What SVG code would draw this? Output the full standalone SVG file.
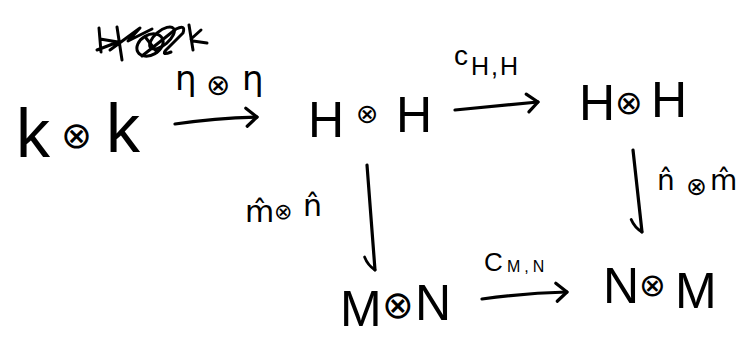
<svg xmlns="http://www.w3.org/2000/svg" width="752" height="339" viewBox="0 0 752 339">
  <style>
    .obj { font-family: "Liberation Sans", "DejaVu Sans", sans-serif; font-size: 50px; fill: #000; }
    .big { font-size: 68px; }
    .ot { font-family: "DejaVu Sans", sans-serif; fill: #000; }
    .lbl { font-family: "DejaVu Sans", sans-serif; font-size: 30px; fill: #000; }
    .sub { font-family: "Liberation Sans", sans-serif; fill: #000; }
    .edge { fill: none; stroke: #000; stroke-width: 3.2; stroke-linecap: round; stroke-linejoin: round; }
    .scrib { fill: none; stroke: #000; stroke-width: 3; stroke-linecap: round; stroke-linejoin: round; }
  </style>
  <defs>
    <marker id="head" markerUnits="userSpaceOnUse" markerWidth="30" markerHeight="30" viewBox="-15 -15 30 30" refX="0" refY="0" orient="auto">
      <path d="M-11,-9 L0,0 L-10,9" fill="none" stroke="#000" stroke-width="3.2" stroke-linecap="round" stroke-linejoin="round"/>
    </marker>
    <marker id="hook" markerUnits="userSpaceOnUse" markerWidth="30" markerHeight="30" viewBox="-20 -15 35 30" refX="0" refY="0" orient="auto">
      <path d="M-16,11 Q-6,8 0,0" fill="none" stroke="#000" stroke-width="3.2" stroke-linecap="round" stroke-linejoin="round"/>
    </marker>
  </defs>

  <rect width="752" height="339" fill="#fff"/>

  <!-- scratched-out mark above k ⊗ k -->
  <g id="scratch">
    <path class="scrib" d="M99,28 L101,52 M97,50 L118,42 L100,39 M117,27 L122,60 M110,50 L140,28 L128,41 L152,29"/>
    <ellipse class="scrib" cx="150" cy="45" rx="14" ry="10" transform="rotate(-30 150 45)"/>
    <ellipse class="scrib" cx="162" cy="38" rx="15" ry="7" transform="rotate(-40 162 38)"/>
    <path class="scrib" d="M142,56 L176,29 Q186,24 183,33 L166,50 Q161,56 171,52 M146,38 L157,52"/>
    <path class="scrib" d="M189,25 L193,50 M191,39 L201,30 M193,41 L207,43"/>
  </g>

  <!-- objects -->
  <g id="kk">
    <text class="obj big" x="16" y="157">k<tspan class="ot" x="61" y="148" style="font-size:37px">⊗</tspan><tspan x="106" y="152">k</tspan></text>
  </g>
  <g id="hh1">
    <text class="obj" x="308" y="137">H<tspan class="ot" x="356" y="123" style="font-size:27px">⊗</tspan><tspan x="396" y="132">H</tspan></text>
  </g>
  <g id="hh2">
    <text class="obj" x="579" y="120">H<tspan class="ot" x="615" y="114" style="font-size:33px">⊗</tspan><tspan x="651" y="117">H</tspan></text>
  </g>
  <g id="mn">
    <text class="obj" x="340" y="326">M<tspan class="ot" x="382" y="318" style="font-size:38px">⊗</tspan><tspan x="415" y="320">N</tspan></text>
  </g>
  <g id="nm">
    <text class="obj" x="603" y="303">N<tspan class="ot" x="639" y="296" style="font-size:32px">⊗</tspan><tspan x="675" y="308">M</tspan></text>
  </g>

  <!-- connectors with their labels -->
  <g id="connectors">
    <path class="edge" d="M175,124 Q215,118 257,117" marker-end="url(#head)"/>
    <path class="edge" d="M455,110 L538,102" marker-end="url(#head)"/>
    <path class="edge" d="M367,165 L375,270" marker-end="url(#hook)"/>
    <path class="edge" d="M633,150 L642,232" marker-end="url(#hook)"/>
    <path class="edge" d="M482,299 Q525,293 567,292" marker-end="url(#head)"/>

    <text class="lbl" x="175" y="90" style="font-size:34px">η<tspan class="ot" x="206" y="95" style="font-size:29px">⊗</tspan><tspan x="242" y="90">η</tspan></text>

    <text class="sub" x="454" y="65" style="font-size:28px">c<tspan x="471" y="75" style="font-size:25px;letter-spacing:2px">H,H</tspan></text>

    <text class="lbl" x="245" y="222">m̂<tspan class="ot" x="274" y="219" style="font-size:22px">⊗</tspan><tspan x="303" y="216">n̂</tspan></text>

    <text class="lbl" x="657" y="190" style="font-size:28px">n̂<tspan class="ot" x="686" y="195" style="font-size:25px">⊗</tspan><tspan x="710" y="190">m̂</tspan></text>

    <text class="sub" x="484" y="271" style="font-size:26px">C<tspan x="507" y="272" style="font-size:16px;letter-spacing:4px">M,N</tspan></text>
  </g>
</svg>
